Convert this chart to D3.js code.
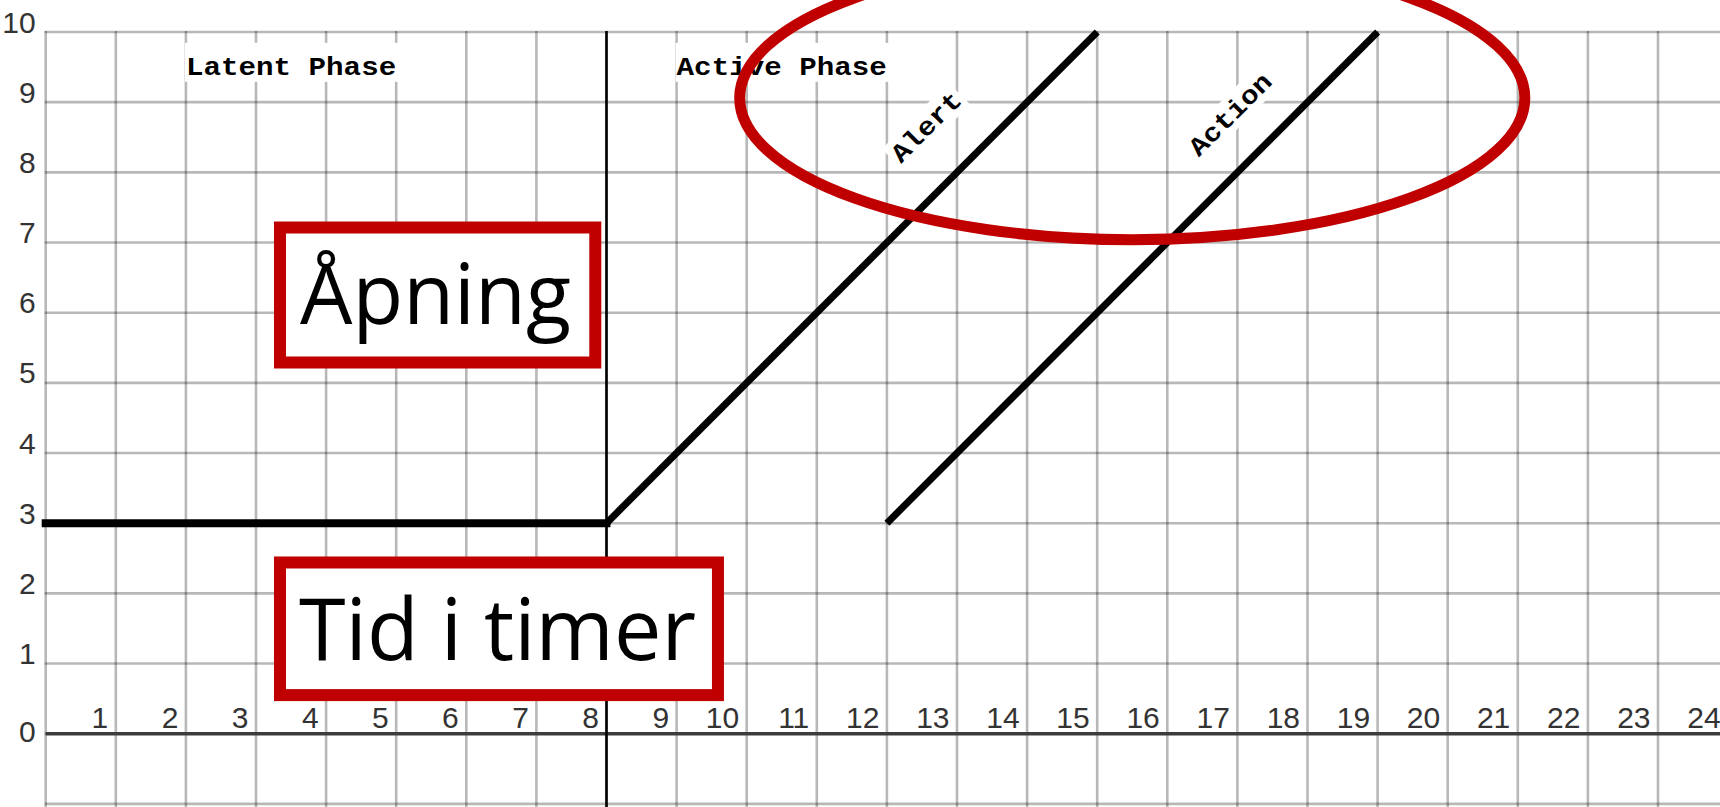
<!DOCTYPE html>
<html>
<head>
<meta charset="utf-8">
<script src="https://cdn.jsdelivr.net/npm/d3@7"></script>
<style>
  html, body { margin: 0; padding: 0; background: #ffffff; overflow: hidden; }
  svg { display: block; }
</style>
</head>
<body>
<script>
// ---- data ----
const xTicks = [1, 2, 3, 4, 5, 6, 7, 8, 9, 10, 11, 12, 13, 14, 15, 16, 17, 18, 19, 20, 21, 22, 23, 24];
const yTicks = [0, 1, 2, 3, 4, 5, 6, 7, 8, 9, 10];
const gridHours = [0, 1, 2, 3, 4, 5, 6, 7, 8, 9, 10, 11, 12, 13, 14, 15, 16, 17, 18, 19, 20, 21, 22, 23, 24];
const gridValues = [-1, 0, 1, 2, 3, 4, 5, 6, 7, 8, 9, 10];
const latentPhase = [{ h: 0, v: 3 }, { h: 8, v: 3 }];
const alertLine = [{ h: 8, v: 3 }, { h: 15, v: 10 }];
const actionLine = [{ h: 12, v: 3 }, { h: 19, v: 10 }];
const phaseDivider = 8;
const phaseLabels = [
  { text: "Latent Phase", h0: 2, h1: 5, v: 9.39 },
  { text: "Active Phase", h0: 9, h1: 12, v: 9.39 }
];
const lineLabels = [
  { text: "Alert", h: 12.2, v: 8.12 },
  { text: "Action", h: 16.45, v: 8.21 }
];
const boxes = [
  { text: "Åpning", h0: 3.342, h1: 7.84, v0: 7.214, v1: 5.29, tv: 5.84 },
  { text: "Tid i timer", h0: 3.342, h1: 9.59, v0: 2.44, v1: 0.55, tv: 1.05 }
];
const highlight = { h: 15.5, v: 9.06, rh: 5.6, rv: 2.02 };

// ---- scales ----
const W = 1720, H = 807;
const x = d3.scaleLinear().domain([0, 24]).range([45.7, 45.7 + 24 * 70.1]);
const y = d3.scaleLinear().domain([0, 10]).range([733.7, 32]);

const svg = d3.select("body").append("svg").attr("width", W).attr("height", H);
svg.append("rect").attr("width", W).attr("height", H).attr("fill", "#fff");

// ---- grid ----
const grid = svg.append("g").attr("stroke", "#000").attr("stroke-opacity", 0.28).attr("stroke-width", 2.6);
grid.selectAll("line.v").data(gridHours).join("line")
  .attr("class", "v")
  .attr("x1", d => x(d)).attr("x2", d => x(d))
  .attr("y1", y(10) - 1).attr("y2", H + 2);
grid.selectAll("line.h").data(gridValues).join("line")
  .attr("class", "h")
  .attr("x1", x(0) - 1).attr("x2", W + 2)
  .attr("y1", d => y(d)).attr("y2", d => y(d));

// zero line
svg.append("line")
  .attr("x1", x(0)).attr("x2", W + 2)
  .attr("y1", y(0)).attr("y2", y(0))
  .attr("stroke", "#3c3c3c").attr("stroke-width", 3.5);

// phase divider
svg.append("line")
  .attr("x1", x(phaseDivider)).attr("x2", x(phaseDivider))
  .attr("y1", y(10) - 1).attr("y2", H + 2)
  .attr("stroke", "#000").attr("stroke-width", 2.6);

// ---- axes ----
const axisFont = "'Liberation Sans', Arial, sans-serif";
const xAxis = svg.append("g").attr("transform", `translate(0,${y(0)})`)
  .call(d3.axisBottom(x).tickValues(xTicks).tickSize(0).tickFormat(d3.format("d")));
xAxis.select(".domain").remove();
xAxis.selectAll("text")
  .attr("text-anchor", "end").attr("x", -8).attr("y", -5.5).attr("dy", 0)
  .attr("font-family", axisFont).attr("font-size", 30).attr("fill", "#333");

const yAxis = svg.append("g").attr("transform", `translate(${x(0)},0)`)
  .call(d3.axisLeft(y).tickValues(yTicks).tickSize(0).tickFormat(d3.format("d")));
yAxis.select(".domain").remove();
yAxis.selectAll("text")
  .attr("text-anchor", "end").attr("x", -10).attr("dy", d => d === 0 ? 8 : 0)
  .attr("font-family", axisFont).attr("font-size", 30).attr("fill", "#333");

// ---- phase labels ----
const monoFont = "'Liberation Mono', 'DejaVu Sans Mono', monospace";
phaseLabels.forEach(p => {
  svg.append("rect")
    .attr("x", x(p.h0) - 1).attr("width", x(p.h1) - x(p.h0) + 3)
    .attr("y", y(p.v) - 32).attr("height", 39)
    .attr("fill", "#fff");
  svg.append("text")
    .attr("x", x(p.h0)).attr("y", y(p.v))
    .attr("textLength", x(p.h1) - x(p.h0)).attr("lengthAdjust", "spacingAndGlyphs")
    .attr("font-family", monoFont).attr("font-weight", "bold").attr("font-size", 26)
    .attr("fill", "#000").text(p.text);
});

// ---- lines ----
const line = d3.line().x(d => x(d.h)).y(d => y(d.v));
svg.append("path").datum(latentPhase).attr("d", line)
  .attr("fill", "none").attr("stroke", "#000").attr("stroke-width", 8).attr("stroke-linecap", "square");
svg.append("path").datum(alertLine).attr("d", line)
  .attr("fill", "none").attr("stroke", "#000").attr("stroke-width", 7);
svg.append("path").datum(actionLine).attr("d", line)
  .attr("fill", "none").attr("stroke", "#000").attr("stroke-width", 7);

// ---- rotated line labels ----
lineLabels.forEach(l => {
  const len = l.text.length * 17.6;
  const g = svg.append("g").attr("transform", `translate(${x(l.h)},${y(l.v)}) rotate(-45)`);
  g.append("rect").attr("x", -3).attr("y", -24).attr("width", len + 6).attr("height", 31).attr("fill", "#fff");
  g.append("text").attr("x", 0).attr("y", 0)
    .attr("textLength", len).attr("lengthAdjust", "spacingAndGlyphs")
    .attr("font-family", monoFont).attr("font-weight", "bold").attr("font-size", 26)
    .attr("fill", "#000").text(l.text);
});

// ---- red annotation boxes ----
const red = "#C00000";
boxes.forEach(b => {
  svg.append("rect")
    .attr("x", x(b.h0)).attr("y", y(b.v0))
    .attr("width", x(b.h1) - x(b.h0)).attr("height", y(b.v1) - y(b.v0))
    .attr("fill", "#fff").attr("stroke", red).attr("stroke-width", 12);
});
svg.append("text").attr("x", 300).attr("y", y(boxes[0].tv))
  .attr("textLength", 271).attr("lengthAdjust", "spacingAndGlyphs")
  .attr("font-family", "'Open Sans', sans-serif").attr("font-size", 84).attr("fill", "#000")
  .text(boxes[0].text);
svg.append("text").attr("x", 299).attr("y", y(boxes[1].tv))
  .attr("textLength", 397).attr("lengthAdjust", "spacingAndGlyphs")
  .attr("font-family", "'Open Sans', sans-serif").attr("font-size", 86).attr("fill", "#000")
  .text(boxes[1].text);

// ---- highlight ellipse ----
svg.append("ellipse")
  .attr("cx", x(highlight.h)).attr("cy", y(highlight.v))
  .attr("rx", x(highlight.rh) - x(0)).attr("ry", y(0) - y(highlight.rv))
  .attr("fill", "none").attr("stroke", red).attr("stroke-width", 11);
</script>
</body>
</html>
